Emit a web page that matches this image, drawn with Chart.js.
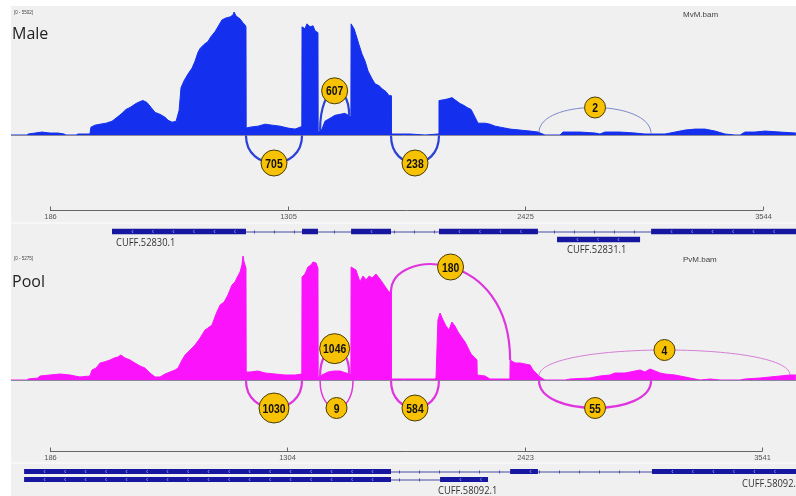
<!DOCTYPE html>
<html>
<head>
<meta charset="utf-8">
<script src="https://cdn.jsdelivr.net/npm/chart.js@4.4.0/dist/chart.umd.min.js"></script>
<style>
  html, body { margin: 0; padding: 0; background: #fff; overflow: hidden; }
</style>
</head>
<body>
<canvas id="sashimi" width="796" height="496"></canvas>
<script>
// coverage of the Male track (MvM.bam): genomic position / read depth
const malePos = [2,78,83,116,148,186,224,252,261,309,
  318,374,379,398,422,450,478,502,525,544,
  563,591,610,624,643,662,681,704,728,742,
  761,780,794,803,817,836,855,869,883,893,
  911,930,944,963,977,996,1015,1034,1048,1053,
  1062,1081,1095,1104,1109,1110,1128,1166,1199,1232,
  1269,1307,1340,1364,1372,1373,1387,1396,1411,1425,
  1434,1448,1449,1467,1481,1505,1528,1552,1575,1599,
  1603,1604,1618,1627,1641,1656,1670,1684,1703,1717,
  1736,1750,1769,1783,1792,1793,1882,1953,2013,2017,
  2018,2046,2065,2079,2098,2117,2136,2150,2169,2188,
  2202,2235,2258,2282,2306,2353,2400,2447,2484,2517,
  2588,2602,2682,2753,2776,2800,2870,2941,2988,3083,
  3130,3177,3224,3271,3318,3365,3412,3436,3459,3506,
  3554,3624,3699];
const maleDepth = [0,0,44,88,132,88,88,44,0,0,
  44,44,352,440,484,528,616,792,968,1144,
  1232,1408,1496,1540,1452,1232,1012,924,792,660,
  572,616,1100,2112,2420,2728,2992,3300,3696,3872,
  4048,4180,4400,4620,4840,5148,5236,5280,5368,5500,
  5324,5192,5016,4928,4840,308,352,396,484,440,
  396,308,264,352,396,4840,4752,4972,4840,4884,
  4664,4576,132,264,616,748,880,924,968,836,
  880,4972,4752,4488,4048,3608,3300,2860,2508,2288,
  2200,2068,1936,1760,1760,44,44,0,44,44,
  1540,1584,1628,1672,1540,1408,1320,1232,1144,792,
  528,528,484,396,352,264,220,176,132,0,
  0,132,132,88,44,132,132,88,44,44,
  132,220,264,264,176,44,0,0,132,132,
  176,132,88];

// coverage of the Pool track (PvM.bam)
const poolPos = [2,78,83,130,139,186,233,280,327,374,
  384,403,422,441,469,488,506,520,539,563,
  586,610,633,657,681,704,728,751,775,789,
  808,822,846,869,893,916,930,949,968,987,
  1006,1024,1043,1057,1071,1081,1090,1095,1100,1109,
  1110,1128,1166,1199,1246,1293,1340,1372,1373,1387,
  1401,1415,1425,1439,1448,1449,1467,1495,1524,1552,
  1580,1603,1604,1627,1646,1660,1675,1689,1703,1721,
  1736,1750,1769,1783,1792,1793,2000,2004,2013,2023,
  2037,2051,2065,2079,2093,2108,2127,2141,2155,2169,
  2188,2197,2198,2235,2258,2343,2352,2353,2376,2400,
  2423,2447,2461,2480,2494,2517,2612,2635,2729,2776,
  2823,2847,2894,2918,2941,2965,2988,3012,3036,3059,
  3083,3130,3177,3200,3248,3295,3342,3436,3459,3530,
  3577,3624,3671,3699];
const poolDepth = [0,0,42,84,168,210,252,210,126,168,
  420,504,714,756,840,924,966,1050,924,840,
  714,588,504,294,126,126,252,336,420,504,
  840,1050,1260,1470,1764,2100,2184,2310,2772,3150,
  3276,3570,3990,4116,4368,4536,4830,5208,4956,4704,
  336,336,378,294,252,210,210,252,4326,4452,
  4746,4830,4956,4914,4704,126,210,336,378,378,
  294,252,4746,4620,4116,4368,4200,4368,4284,4452,
  4284,4116,3864,3696,3696,42,42,84,2520,2814,
  2520,2268,2100,2436,2268,2016,1764,1596,1344,1092,
  924,840,210,168,42,42,42,840,714,714,
  672,630,420,252,126,0,0,42,84,168,
  210,294,294,336,378,420,336,462,378,294,
  252,210,126,84,0,42,0,0,42,84,
  126,168,210,210];

// splice junctions
const maleJxStart = [1109, 1458, 1792, 2489];
const maleJxEnd   = [1373, 1595, 2018, 3017];
const maleJxCount = [705, 607, 238, 2];
const maleJxSide  = ['below', 'above', 'below', 'above'];

const poolJxStart = [1109, 1458, 1458, 1792, 1792, 2489, 2489];
const poolJxEnd   = [1373, 1595, 1613, 2353, 2018, 3017, 3671];
const poolJxCount = [1030, 1046, 9, 180, 584, 55, 4];
const poolJxSide  = ['below', 'above', 'below', 'above', 'below', 'below', 'above'];

// ruler ticks
const maleTicks = [186, 1305, 2425, 3544];
const poolTicks = [186, 1304, 2423, 3541];

// transcripts (exon start/end)
const cuff52830 = [[478, 1109], [1373, 1448], [1604, 1792], [2018, 2484], [3017, 3720]];
const cuff52831 = [[2574, 2965]];
const cuff58092a = [[64, 1792], [2353, 2484], [3021, 3720]];
const cuff58092b = [[64, 1792], [2023, 2249]];

const maleRange = 5502, poolRange = 5275;

// layout
const W = 796, H = 496;
const AXIS_L = 50, AXIS_R = 763;
const basesPerPx = (maleTicks[3] - maleTicks[0]) / (AXIS_R - AXIS_L);
const xMin = maleTicks[0] - AXIS_L * basesPerPx;
const xMax = maleTicks[0] + (W - AXIS_L) * basesPerPx;

function yLimits(range, topPx, basePx) {
  const u = range / (basePx - topPx);
  return { min: -(H - basePx) * u, max: range + topPx * u };
}
const maleY = yLimits(maleRange, 12, 135);
const poolY = yLimits(poolRange, 380 - poolRange / 42, 380);

function covAt(xs, ys, pos) {
  for (let i = 0; i < xs.length - 1; i++) {
    if (pos >= xs[i] && pos <= xs[i + 1]) {
      const t = (pos - xs[i]) / (xs[i + 1] - xs[i] || 1);
      return ys[i] + t * (ys[i + 1] - ys[i]);
    }
  }
  return 0;
}

// text squeezed horizontally, the screenshot fonts are narrow
function narrowText(ctx, txt, x, y, sx) {
  ctx.save();
  ctx.translate(x, y);
  ctx.scale(sx, 1);
  ctx.fillText(txt, 0, 0);
  ctx.restore();
}

const panels = [
  { yId: 'yMale', base: 135, pos: malePos, depth: maleDepth,
    jx: [maleJxStart, maleJxEnd, maleJxCount, maleJxSide],
    arc: '#2b40d6', arcThin: '#7c89cc', ticks: maleTicks, axisY: 210.5, sepY: 223,
    name: 'Male', nameY: 39, bam: 'MvM.bam', bamY: 15, rangeY: 13 },
  { yId: 'yPool', base: 380, pos: poolPos, depth: poolDepth,
    jx: [poolJxStart, poolJxEnd, poolJxCount, poolJxSide],
    arc: '#df35df', arcThin: '#d57ed5', ticks: poolTicks, axisY: 451.5, sepY: 463,
    name: 'Pool', nameY: 287, bam: 'PvM.bam', bamY: 260, rangeY: 259 }
];

function drawGene(ctx, xs, exons, yc, h) {
  const first = xs.getPixelForValue(exons[0][1]);
  const last = xs.getPixelForValue(exons[exons.length - 1][0]);
  ctx.strokeStyle = '#4b4ba6';
  ctx.lineWidth = 1;
  ctx.beginPath();
  ctx.moveTo(first, yc + 0.5);
  ctx.lineTo(last, yc + 0.5);
  ctx.stroke();
  for (let px = first + 8; px < last - 4; px += 20) {
    ctx.beginPath();
    ctx.moveTo(px + 0.5, yc - 1);
    ctx.lineTo(px + 0.5, yc + 2);
    ctx.stroke();
  }
  exons.forEach(e => {
    const a = xs.getPixelForValue(e[0]), b = Math.min(xs.getPixelForValue(e[1]), W);
    ctx.fillStyle = '#1616a0';
    ctx.fillRect(a, yc - h / 2, b - a, h);
    ctx.strokeStyle = '#8088d8';
    for (let px = a + 20; px < b - 4; px += 20.5) {
      ctx.beginPath();
      ctx.moveTo(px + 1, yc - 1.5);
      ctx.lineTo(px, yc);
      ctx.lineTo(px + 1, yc + 1.5);
      ctx.stroke();
    }
  });
}

const sashimiPlugin = {
  id: 'sashimi',
  beforeDraw(chart) {
    const ctx = chart.ctx;
    ctx.save();
    ctx.fillStyle = '#fff';
    ctx.fillRect(0, 0, W, H);
    ctx.fillStyle = '#f0f0f0';
    ctx.fillRect(11, 6, W - 11, H - 6);
    ctx.restore();
  },
  afterDatasetsDraw(chart) {
    const ctx = chart.ctx;
    const xs = chart.scales.x;
    ctx.save();
    panels.forEach(p => {
      const ys = chart.scales[p.yId];
      // baseline
      ctx.strokeStyle = '#8a8a9a';
      ctx.lineWidth = 1;
      ctx.beginPath();
      ctx.moveTo(11, p.base + 0.5);
      ctx.lineTo(W, p.base + 0.5);
      ctx.stroke();

      // junction arcs
      const [st, en, cnt, side] = p.jx;
      const labels = [];
      for (let i = 0; i < st.length; i++) {
        const x1 = xs.getPixelForValue(st[i]), x2 = xs.getPixelForValue(en[i]);
        let y1, y2, apex;
        if (side[i] === 'above') {
          y1 = ys.getPixelForValue(covAt(p.pos, p.depth, st[i]));
          y2 = ys.getPixelForValue(covAt(p.pos, p.depth, en[i]));
          apex = Math.min(y1, y2) - 25;
        } else {
          y1 = y2 = p.base + 0.5;
          apex = p.base + 28;
        }
        const c = (apex - (y1 + y2) / 8) / 0.75;
        ctx.strokeStyle = cnt[i] < 5 ? p.arcThin : p.arc;
        ctx.lineWidth = cnt[i] >= 50 ? 2.2 : (cnt[i] >= 5 ? 1.5 : 1);
        ctx.beginPath();
        ctx.moveTo(x1, y1);
        ctx.bezierCurveTo(x1, c, x2, c, x2, y2);
        ctx.stroke();
        labels.push([(x1 + x2) / 2, apex, String(cnt[i])]);
      }
      labels.forEach(([cx, cy, txt]) => {
        const r = [0, 10.5, 10.5, 13, 15][txt.length];
        ctx.beginPath();
        ctx.arc(cx, cy, r, 0, Math.PI * 2);
        ctx.fillStyle = '#f7c104';
        ctx.fill();
        ctx.strokeStyle = '#4a3c05';
        ctx.lineWidth = 1;
        ctx.stroke();
        ctx.fillStyle = '#111';
        ctx.font = 'bold 13px "Liberation Sans", sans-serif';
        ctx.textAlign = 'center';
        ctx.textBaseline = 'middle';
        narrowText(ctx, txt, cx, cy + 1, 0.8);
      });

      // ruler
      const a = xs.getPixelForValue(p.ticks[0]), b = xs.getPixelForValue(p.ticks[p.ticks.length - 1]);
      ctx.strokeStyle = '#666';
      ctx.lineWidth = 1;
      ctx.beginPath();
      ctx.moveTo(a, p.axisY);
      ctx.lineTo(b, p.axisY);
      ctx.stroke();
      ctx.font = '7.5px "Liberation Sans", sans-serif';
      ctx.fillStyle = '#555';
      ctx.textAlign = 'center';
      ctx.textBaseline = 'top';
      p.ticks.forEach(t => {
        const tx = Math.round(xs.getPixelForValue(t)) + 0.5;
        ctx.beginPath();
        ctx.moveTo(tx, p.axisY - 4);
        ctx.lineTo(tx, p.axisY);
        ctx.stroke();
        ctx.fillText(String(t), tx, p.axisY + 3);
      });

      // separator
      ctx.strokeStyle = '#fafafa';
      ctx.lineWidth = 1.5;
      ctx.beginPath();
      ctx.moveTo(11, p.sepY);
      ctx.lineTo(W, p.sepY);
      ctx.stroke();

      // track names
      ctx.textAlign = 'left';
      ctx.textBaseline = 'alphabetic';
      ctx.fillStyle = '#222';
      ctx.font = '16px "Open Sans", sans-serif';
      ctx.fillText(p.name, 12, p.nameY);
      ctx.fillStyle = '#444';
      ctx.font = '8px "Liberation Sans", sans-serif';
      ctx.textBaseline = 'middle';
      ctx.fillText(p.bam, 683, p.bamY);
      ctx.font = '4.5px "Liberation Sans", sans-serif';
      ctx.fillText('[0 - ' + (p.yId === 'yMale' ? maleRange : poolRange) + ']', 14, p.rangeY);
    });

    // transcripts
    drawGene(ctx, xs, cuff52830, 231.5, 5.5);
    drawGene(ctx, xs, cuff52831, 239.5, 5.5);
    drawGene(ctx, xs, cuff58092a, 471.5, 5);
    drawGene(ctx, xs, cuff58092b, 479.5, 5);
    ctx.fillStyle = '#333';
    ctx.font = '11px "Open Sans", sans-serif';
    ctx.textAlign = 'left';
    ctx.textBaseline = 'middle';
    narrowText(ctx, 'CUFF.52830.1', 116, 243, 0.85);
    narrowText(ctx, 'CUFF.52831.1', 567, 250, 0.85);
    narrowText(ctx, 'CUFF.58092.1', 438, 491, 0.85);
    narrowText(ctx, 'CUFF.58092.2', 742, 484, 0.85);
    ctx.restore();
  }
};

new Chart(document.getElementById('sashimi').getContext('2d'), {
  type: 'line',
  data: {
    datasets: [
      {
        data: malePos.map((p, i) => ({ x: p, y: maleDepth[i] })),
        yAxisID: 'yMale',
        borderColor: '#1430ee',
        backgroundColor: '#1430ee',
        borderWidth: 1,
        pointRadius: 0,
        tension: 0,
        fill: 'origin'
      },
      {
        data: poolPos.map((p, i) => ({ x: p, y: poolDepth[i] })),
        yAxisID: 'yPool',
        borderColor: '#fb14fb',
        backgroundColor: '#fb14fb',
        borderWidth: 1,
        pointRadius: 0,
        tension: 0,
        fill: 'origin'
      }
    ]
  },
  options: {
    responsive: false,
    animation: false,
    events: [],
    layout: { padding: 0 },
    scales: {
      x: { type: 'linear', min: xMin, max: xMax, display: false },
      yMale: { type: 'linear', min: maleY.min, max: maleY.max, display: false },
      yPool: { type: 'linear', min: poolY.min, max: poolY.max, display: false }
    },
    plugins: {
      legend: { display: false },
      tooltip: { enabled: false }
    }
  },
  plugins: [sashimiPlugin]
});
</script>
</body>
</html>
